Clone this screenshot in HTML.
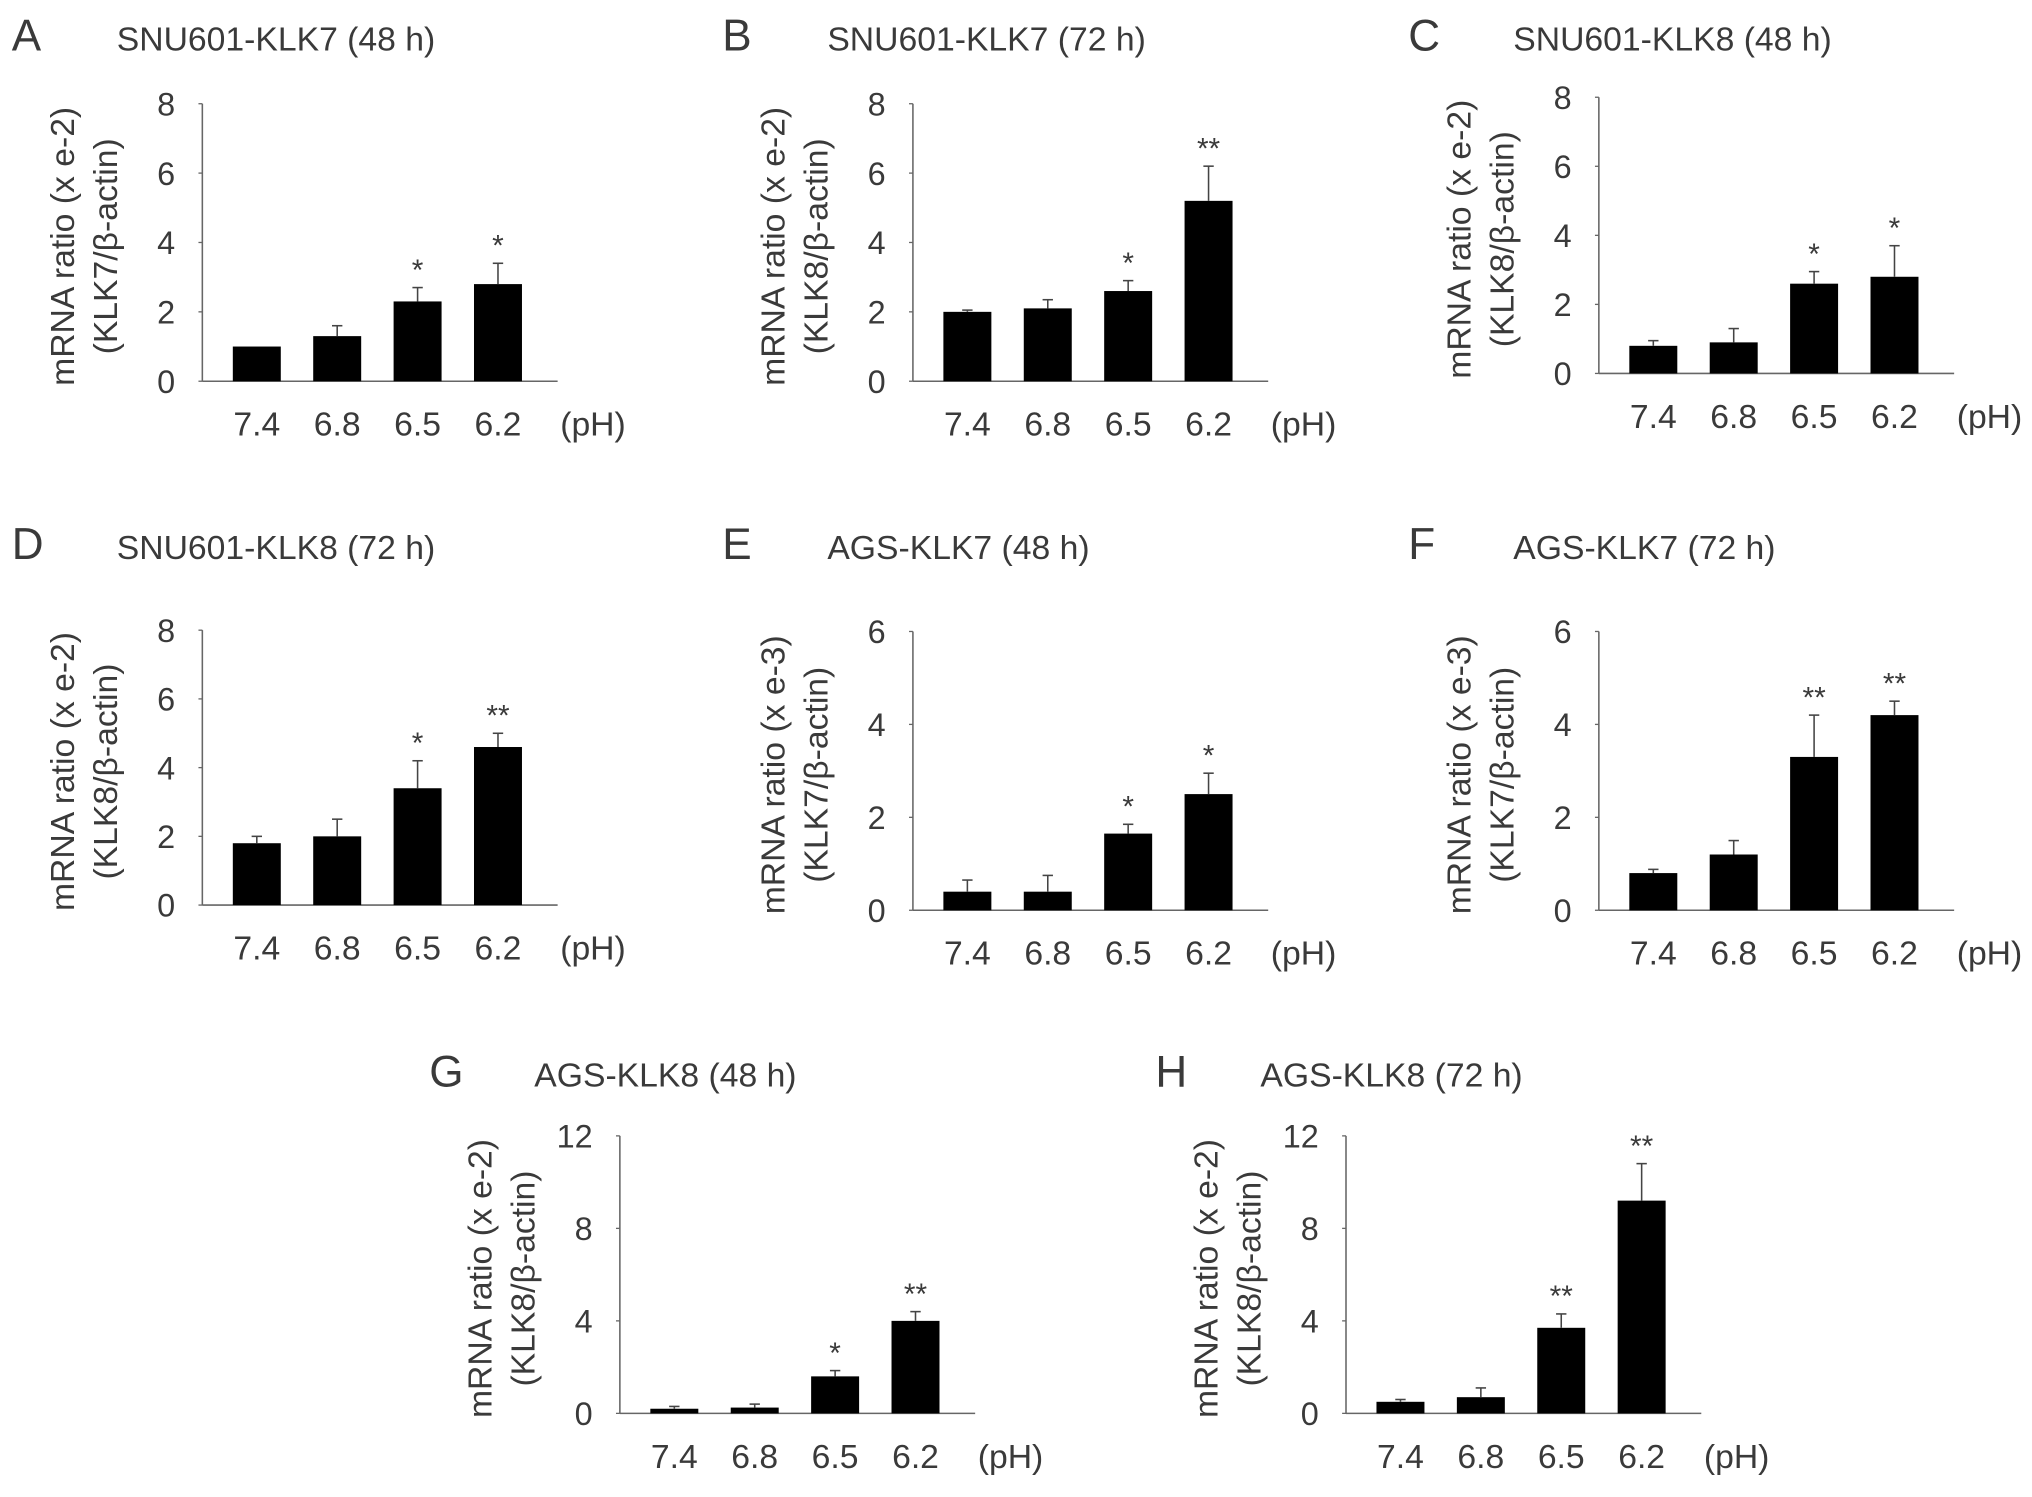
<!DOCTYPE html>
<html><head><meta charset="utf-8"><style>
html,body{margin:0;padding:0;background:#fff;}
svg{display:block;}
text{font-family:"Liberation Sans",sans-serif;fill:#3a3a3a;}
</style></head><body>
<svg id="fig" xmlns="http://www.w3.org/2000/svg" width="2032" height="1497" viewBox="0 0 1567 1154.5"></svg>
<script>
const categories = ["7.4","6.8","6.5","6.2"];
const valsA = [1.0,1.3,2.3,2.8];   const errA = [0.0,0.3,0.4,0.6];   const sigA = ["","","*","*"];
const valsB = [2.0,2.1,2.6,5.2];   const errB = [0.05,0.25,0.3,1.0]; const sigB = ["","","*","**"];
const valsC = [0.8,0.9,2.6,2.8];   const errC = [0.15,0.4,0.35,0.9]; const sigC = ["","","*","*"];
const valsD = [1.8,2.0,3.4,4.6];   const errD = [0.2,0.5,0.8,0.4];   const sigD = ["","","*","**"];
const valsE = [0.4,0.4,1.65,2.5];  const errE = [0.25,0.35,0.2,0.45]; const sigE = ["","","*","*"];
const valsF = [0.8,1.2,3.3,4.2];   const errF = [0.08,0.3,0.9,0.3];  const sigF = ["","","**","**"];
const valsG = [0.2,0.25,1.6,4.0];  const errG = [0.1,0.15,0.25,0.4]; const sigG = ["","","*","**"];
const valsH = [0.5,0.7,3.7,9.2];   const errH = [0.1,0.4,0.6,1.6];   const sigH = ["","","**","**"];
const ticks8 = [0,2,4,6,8];
const ticks6 = [0,2,4,6];
const ticks12 = [0,4,8,12];

const panels = [
 {id:"a",letter:"A",title:"SNU601-KLK7 (48 h)",ax:156,top:80,y0:294,ticks:ticks8,vals:valsA,err:errA,sig:sigA,l1:"mRNA ratio (x e-2)",l2:"(KLK7/β-actin)",ty:39},
 {id:"b",letter:"B",title:"SNU601-KLK7 (72 h)",ax:704,top:80,y0:294,ticks:ticks8,vals:valsB,err:errB,sig:sigB,l1:"mRNA ratio (x e-2)",l2:"(KLK8/β-actin)",ty:39},
 {id:"c",letter:"C",title:"SNU601-KLK8 (48 h)",ax:1233,top:75,y0:288,ticks:ticks8,vals:valsC,err:errC,sig:sigC,l1:"mRNA ratio (x e-2)",l2:"(KLK8/β-actin)",ty:39},
 {id:"d",letter:"D",title:"SNU601-KLK8 (72 h)",ax:156,top:486,y0:698,ticks:ticks8,vals:valsD,err:errD,sig:sigD,l1:"mRNA ratio (x e-2)",l2:"(KLK8/β-actin)",ty:431},
 {id:"e",letter:"E",title:"AGS-KLK7 (48 h)",ax:704,top:487,y0:702,ticks:ticks6,vals:valsE,err:errE,sig:sigE,l1:"mRNA ratio (x e-3)",l2:"(KLK7/β-actin)",ty:431},
 {id:"f",letter:"F",title:"AGS-KLK7 (72 h)",ax:1233,top:487,y0:702,ticks:ticks6,vals:valsF,err:errF,sig:sigF,l1:"mRNA ratio (x e-3)",l2:"(KLK7/β-actin)",ty:431},
 {id:"g",letter:"G",title:"AGS-KLK8 (48 h)",ax:478,top:876,y0:1090,ticks:ticks12,vals:valsG,err:errG,sig:sigG,l1:"mRNA ratio (x e-2)",l2:"(KLK8/β-actin)",ty:838},
 {id:"h",letter:"H",title:"AGS-KLK8 (72 h)",ax:1038,top:876,y0:1090,ticks:ticks12,vals:valsH,err:errH,sig:sigH,l1:"mRNA ratio (x e-2)",l2:"(KLK8/β-actin)",ty:838}
];
const NS="http://www.w3.org/2000/svg";
const svg=document.getElementById('fig');
function mk(tag,attrs,parent,txt){const e=document.createElementNS(NS,tag);for(const k in attrs)e.setAttribute(k,attrs[k]);if(txt!==undefined)e.textContent=txt;parent.appendChild(e);return e;}
panels.forEach(p=>{
  const g=mk('g',{},svg);
  
  
  const ymax=p.ticks[p.ticks.length-1];
  const yS=v=>p.y0-(v/ymax)*(p.y0-p.top);
  const xS=i=>p.ax+42+i*62;
  let t=mk('text',{x:p.ax-147,y:p.ty,'font-size':34},g,p.letter);
  
  
  t=mk('text',{x:p.ax-66,y:p.ty,'font-size':26},g,p.title);
  
  
  const cy=(p.top+p.y0)/2+3;
  t=mk('text',{x:0,y:0,'font-size':26,'text-anchor':'middle',transform:`translate(${p.ax-99},${cy}) rotate(-90)`},g,p.l1);
  
  
  t=mk('text',{x:0,y:0,'font-size':26,'text-anchor':'middle',transform:`translate(${p.ax-66},${cy}) rotate(-90)`},g,p.l2);
  
  
  let l=mk('line',{x1:p.ax,y1:p.top,x2:p.ax,y2:p.y0,stroke:'#666','stroke-width':1.2},g);
  
  
  l=mk('line',{x1:p.ax,y1:p.y0,x2:p.ax+274,y2:p.y0,stroke:'#666','stroke-width':1.2},g);
  
  
  p.ticks.forEach(v=>{
    const y=yS(v);
    mk('line',{x1:p.ax-3,y1:y,x2:p.ax,y2:y,stroke:'#666','stroke-width':1},g);
    const tl=mk('text',{x:p.ax-21,y:y+9,'font-size':25,'text-anchor':'end'},g,String(v));
    
    
  });
  categories.forEach((c,i)=>{
    const x=xS(i);
    const top=yS(p.vals[i]);
    const b=mk('rect',{x:x-18.5,y:top,width:37,height:p.y0-top,fill:'#000'},g);
    
    
    const et=yS(p.vals[i]+p.err[i]);
    if(p.err[i]>0){
      mk('line',{x1:x,y1:top,x2:x,y2:et,stroke:'#444','stroke-width':1.2},g);
      mk('line',{x1:x-4,y1:et,x2:x+4,y2:et,stroke:'#444','stroke-width':1.2},g);
    }
    if(p.sig[i]){
      const s=mk('text',{x:x,y:et-6,'font-size':23,'text-anchor':'middle'},g,p.sig[i]);
      
      
    }
    const xl=mk('text',{x:x,y:p.y0+42,'font-size':26,'text-anchor':'middle'},g,c);
    
    
  });
  t=mk('text',{x:p.ax+276,y:p.y0+42,'font-size':26},g,'(pH)');
  
  
});
</script>
</body></html>
